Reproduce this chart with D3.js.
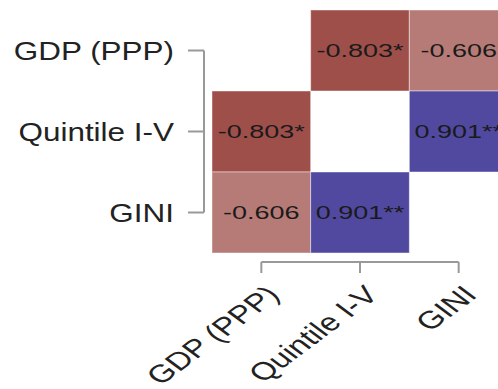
<!DOCTYPE html>
<html>
<head>
<meta charset="utf-8">
<script src="https://cdn.jsdelivr.net/npm/d3@7"></script>
<style>
  html, body { margin: 0; padding: 0; background: #fff; }
  svg { display: block; }
  text { font-family: "Liberation Sans", Arial, sans-serif; }
</style>
</head>
<body>
<svg id="chart" width="498" height="389"></svg>
<script>
// ---- data ----
const variables = ["GDP (PPP)", "Quintile I-V", "GINI"];
const rowVar = ["GDP (PPP)", "GDP (PPP)", "Quintile I-V", "Quintile I-V", "GINI", "GINI"];
const colVar = ["Quintile I-V", "GINI", "GDP (PPP)", "GINI", "GDP (PPP)", "Quintile I-V"];
const coefficients = [-0.803, -0.606, -0.803, 0.901, -0.606, 0.901];
const stars = ["*", "", "*", "**", "", "**"];

const cells = coefficients.map((v, i) => ({ row: rowVar[i], col: colVar[i], value: v, star: stars[i] }));

const svg = d3.select("#chart");

const x = d3.scaleBand().domain(variables).range([212, 508]);
const y = d3.scaleBand().domain(variables).range([10, 253]);
const color = d3.scaleLinear().domain([-1, 0, 1])
  .range(["rgb(134,36,30)", "#ffffff", "rgb(62,53,150)"]);

const fmt = d3.formatLocale({ decimal: ".", thousands: ",", grouping: [3], currency: ["", ""], minus: "-" }).format(".3f");

// cells
const g = svg.append("g");
g.selectAll("rect").data(cells).join("rect")
  .attr("x", d => x(d.col))
  .attr("y", d => y(d.row))
  .attr("width", x.bandwidth())
  .attr("height", y.bandwidth())
  .attr("fill", d => color(d.value))
  .attr("stroke", "rgba(255,255,255,0.45)")
  .attr("stroke-width", 1);

g.selectAll("text.val").data(cells).join("text")
  .attr("class", "val")
  .attr("transform", d => `translate(${x(d.col) + x.bandwidth() / 2},${y(d.row) + y.bandwidth() / 2}) scale(1.42,1)`)
  .attr("text-anchor", "middle")
  .attr("dy", "0.36em")
  .attr("font-size", 19)
  .attr("fill", "#1a1a1a")
  .text(d => fmt(d.value) + d.star);

const axisColor = "#999";

// left axis
const yAxis = svg.append("g")
  .attr("transform", "translate(204,0)")
  .call(d3.axisLeft(y).tickSize(16).tickSizeOuter(0));
yAxis.select(".domain")
  .attr("d", `M0,${y(variables[0]) + y.bandwidth() / 2}V${y(variables[variables.length - 1]) + y.bandwidth() / 2}`)
  .attr("stroke", axisColor).attr("stroke-width", 2);
yAxis.selectAll(".tick line").attr("stroke", axisColor).attr("stroke-width", 2);
yAxis.selectAll(".tick text")
  .attr("x", null)
  .attr("transform", "translate(-30,0) scale(1.21,1)")
  .attr("dy", "0.36em")
  .attr("font-size", 26)
  .attr("font-family", "Liberation Sans, Arial, sans-serif")
  .attr("fill", "#222");

// bottom axis
const xAxis = svg.append("g")
  .attr("transform", "translate(0,262)")
  .call(d3.axisBottom(x).tickSize(11).tickSizeOuter(0));
xAxis.select(".domain")
  .attr("d", `M${x(variables[0]) + x.bandwidth() / 2},0H${x(variables[variables.length - 1]) + x.bandwidth() / 2}`)
  .attr("stroke", axisColor).attr("stroke-width", 2);
xAxis.selectAll(".tick line").attr("stroke", axisColor).attr("stroke-width", 2);
xAxis.selectAll(".tick text")
  .attr("y", null)
  .attr("dy", "0.75em")
  .attr("transform", "translate(2,21) scale(1.34,1) rotate(-45)")
  .attr("text-anchor", "end")
  .attr("font-size", 25)
  .attr("font-family", "Liberation Sans, Arial, sans-serif")
  .attr("fill", "#222");
</script>
</body>
</html>
